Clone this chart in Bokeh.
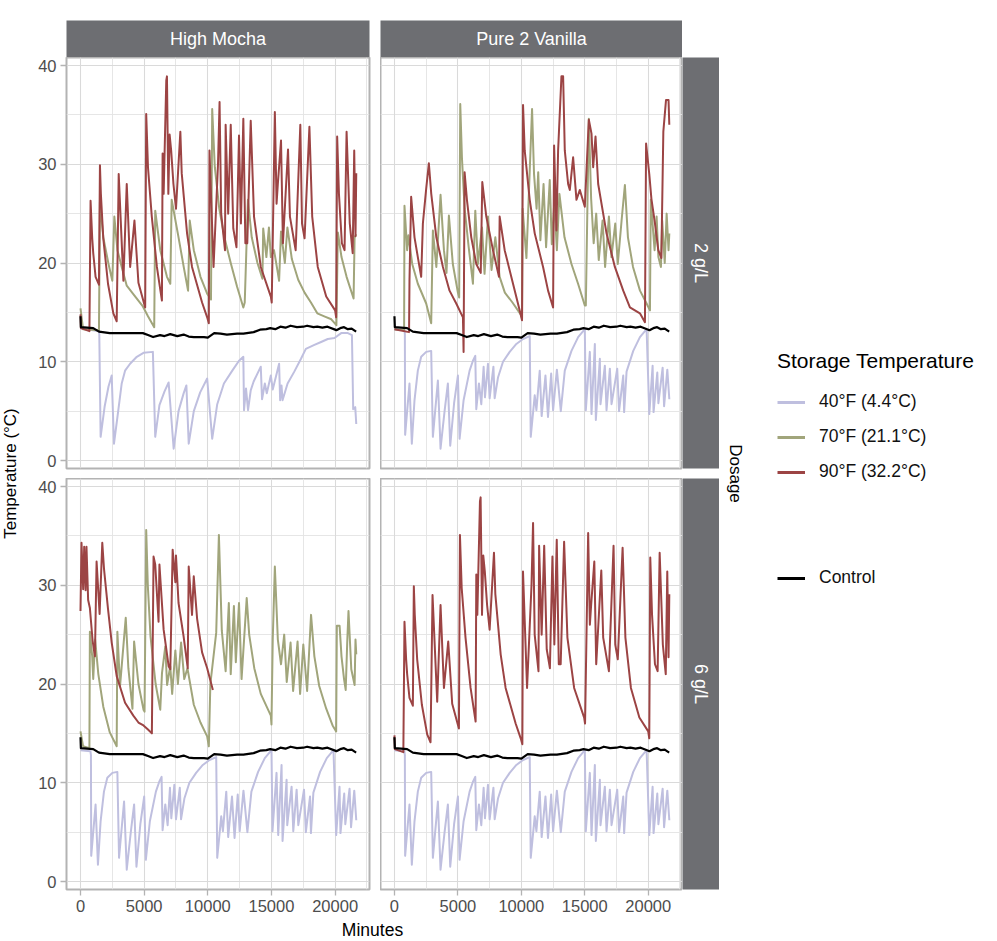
import math
from bokeh.plotting import figure
from bokeh.models import (Range1d, LinearAxis, Grid, FixedTicker, Legend,
                          LegendItem, Label, Row, Column)
from bokeh.embed import file_html
from bokeh.resources import INLINE

FONT = "Liberation Sans"
C40, C70, C90, CCTRL = "#bfbfdf", "#a1a57b", "#9c4444", "#000000"
STRIP = "#6d6e72"

# ---------------- data (minutes, temperature in deg C) ----------------
COLS = ["High Mocha", "Pure 2 Vanilla"]
ROWS = ["2 g/L", "6 g/L"]
LEGEND_TITLE = "Storage Temperature"
LEGEND_LABELS = ["40°F (4.4°C)", "70°F (21.1°C)", "90°F (32.2°C)"]
CONTROL_LABEL = "Control"
X_TICKS = [0, 5000, 10000, 15000, 20000]
Y_TICKS = [0, 10, 20, 30, 40]
X_MINOR = [2500, 7500, 12500, 17500, 22500]
Y_MINOR = [5, 15, 25, 35]

CTRL_MIN = [0, 30, 1000, 1450, 2300, 4900, 5300, 5700, 6250, 6600,
            7050, 7600, 8100, 8500, 8900, 9700, 10000, 10500, 11000, 11500,
            12300, 12800, 13600, 14100, 14600, 14900, 15300, 15700, 16100, 16500,
            17000, 17500, 17800, 18300, 18600, 19000, 19400, 20100, 20400, 20700,
            21000, 21300, 21650]
CTRL_TMP = [14.6, 13.5, 13.4, 13.05, 12.9, 12.9, 12.7, 12.5, 12.7, 12.6,
            12.8, 12.6, 12.75, 12.55, 12.5, 12.5, 12.45, 12.9, 12.85, 12.75,
            12.85, 12.85, 13.0, 13.25, 13.3, 13.4, 13.3, 13.55, 13.45, 13.65,
            13.5, 13.55, 13.65, 13.5, 13.55, 13.45, 13.55, 13.2, 13.4, 13.5,
            13.3, 13.35, 13.05]

# 40F, High Mocha 2 g/L
T40A_MIN = [0, 1440, 1474, 1580, 1900, 2200, 2450, 2630, 2900, 3237,
            3500, 3895, 4422, 4948, 5685, 5870, 6200, 6600, 6922, 7317,
            7700, 8100, 8317, 8500, 8900, 9400, 9949, 10344, 10740, 11265,
            11923, 12450, 12790, 12844, 13000, 13160, 13370, 13600, 14160, 14260,
            14480, 14630, 14950, 15100, 15600, 15680, 15790, 15870, 16266, 16792,
            17319, 17700, 18371, 18898, 19424, 19951, 20477, 21003, 21320, 21420,
            21580, 21660]
T40A_TMP = [13.4, 13.1, 12.9, 2.4, 5.5, 7.5, 8.6, 1.7, 4.4, 7.8,
            9.1, 9.8, 10.5, 10.9, 11.0, 2.4, 5.6, 7.0, 7.9, 1.2,
            5.0, 6.8, 7.6, 1.7, 5.0, 6.9, 8.3, 2.2, 5.7, 7.8,
            9.1, 10.1, 10.5, 5.1, 7.3, 5.1, 7.1, 8.0, 9.5, 6.2,
            7.8, 6.8, 8.6, 7.2, 9.8, 6.1, 7.6, 6.1, 7.8, 9.0,
            10.3, 11.3, 11.7, 12.0, 12.3, 12.4, 12.9, 12.9, 12.7, 5.2,
            5.4, 3.7]

# 40F, the other three panels
T40B_MIN = [0, 780, 820, 842, 1184, 1369, 1579, 1842, 2106, 2500,
            2895, 3027, 3422, 3632, 3950, 4211, 4395, 4700, 5001, 5132,
            5448, 5922, 6185, 6369, 6448, 6659, 6843, 7027, 7133, 7370,
            7500, 7800, 7896, 8159, 8554, 9080, 9607, 10133, 10660, 10739,
            11054, 11186, 11449, 11600, 11900, 12100, 12350, 12502, 12800, 13108,
            13423, 13950, 14476, 15002, 15081, 15397, 15529, 15792, 15871, 16187,
            16239, 16581, 16713, 16976, 17108, 17555, 17700, 18029, 18100, 18292,
            18818, 19345, 19871, 20082, 20345, 20420, 20714, 20800, 21135, 21250,
            21503, 21661]
T40B_TMP = [13.3, 13.2, 12.8, 2.6, 7.8, 1.7, 6.1, 9.1, 10.5, 11.0,
            11.1, 2.4, 8.1, 1.2, 5.0, 7.8, 1.5, 5.8, 8.6, 2.2,
            6.1, 9.1, 10.1, 10.6, 5.2, 7.8, 5.7, 9.5, 6.4, 9.8,
            6.3, 9.5, 6.3, 8.4, 10.0, 11.0, 11.8, 12.3, 12.6, 2.4,
            6.6, 5.1, 9.1, 4.5, 8.6, 4.4, 8.8, 5.1, 9.2, 5.0,
            9.1, 11.1, 12.5, 13.3, 5.1, 11.0, 4.7, 11.8, 4.1, 10.3,
            5.7, 9.6, 5.1, 9.3, 5.7, 9.3, 5.0, 8.6, 4.9, 9.0,
            11.1, 12.5, 13.3, 4.7, 9.6, 4.9, 8.9, 5.8, 9.4, 5.5,
            9.2, 6.2]

# 70F, High Mocha 2 g/L
T70TL_MIN = [0, 200, 1450, 1527, 1790, 2200, 2500, 2658, 2900, 3237,
             3632, 4300, 4900, 5300, 5790, 5870, 6264, 6791, 7054, 7160,
             7700, 8107, 8449, 8580, 8900, 9423, 9949, 10250, 10344, 10550,
             10900, 11300, 11800, 12300, 12790, 12900, 13150, 13450, 13900, 14290,
             14350, 14600, 14800, 14950, 15200, 15500, 15600, 15750, 16050, 16250,
             16600, 17100, 17600, 18100, 18600, 19150, 19700, 20100, 20214, 20500,
             20900, 21450, 21530, 21660]
T70TL_TMP = [15.4, 13.3, 13.2, 26.2, 22.6, 19.9, 18.2, 24.7, 21.3, 19.6,
             17.7, 16.6, 15.6, 14.6, 13.5, 25.3, 21.3, 18.6, 17.9, 26.4,
             22.6, 19.6, 17.2, 24.3, 21.3, 18.6, 16.9, 16.3, 35.6, 29.7,
             25.5, 22.6, 20.0, 17.6, 15.5, 16.0, 26.4, 22.6, 20.0, 18.4,
             23.5, 20.6, 23.6, 20.6, 21.3, 19.0, 18.2, 23.2, 20.0, 23.6,
             20.4, 18.3, 17.0, 16.0, 14.9, 14.6, 14.3, 13.7, 23.1, 20.6,
             18.6, 16.4, 22.6, 22.9]

# 70F, Pure 2 Vanilla 2 g/L
T70TR_MIN = [0, 760, 790, 1000, 1100, 1400, 1842, 2500, 2895, 3027,
             3300, 3632, 3900, 4100, 4290, 4600, 5000, 5100, 5185, 5320,
             5530, 5850, 6185, 6370, 6580, 6900, 7100, 7370, 7650, 7950,
             8290, 8700, 9300, 10000, 10054, 10100, 10400, 10844, 11000, 11200,
             11330, 11500, 11750, 11950, 12239, 12400, 12600, 12800, 13000, 13400,
             13950, 14470, 15002, 15081, 15318, 15500, 15700, 15900, 16100, 16400,
             16600, 16900, 17100, 17400, 17600, 17900, 18160, 18400, 18800, 19350,
             19870, 20135, 20200, 20500, 20660, 20800, 21000, 21100, 21300, 21450,
             21600, 21660]
T70TR_TMP = [13.3, 13.2, 25.8, 21.3, 22.8, 19.9, 17.9, 15.9, 13.9, 23.3,
             19.6, 26.9, 21.3, 19.0, 24.8, 19.9, 17.0, 16.5, 36.1, 30.6,
             25.5, 21.6, 17.9, 25.3, 19.9, 23.6, 18.9, 24.7, 19.3, 22.6,
             18.6, 17.0, 16.0, 14.7, 14.4, 25.5, 20.5, 35.6, 29.0, 25.5,
             29.2, 22.3, 28.0, 21.6, 28.4, 21.9, 26.2, 21.3, 27.0, 22.6,
             19.9, 17.9, 15.7, 15.7, 34.6, 26.5, 22.0, 25.0, 20.3, 24.3,
             19.6, 24.7, 20.6, 24.0, 19.9, 24.3, 27.9, 22.6, 19.6, 17.2,
             15.9, 15.2, 26.4, 21.3, 24.7, 20.6, 19.6, 24.3, 20.0, 25.0,
             21.3, 23.0]

# 70F, High Mocha 6 g/L
T70BL_MIN = [0, 200, 700, 737, 920, 1000, 1150, 1400, 1790, 2300,
             2843, 2895, 3106, 3553, 3760, 4080, 4211, 4550, 4948, 5030,
             5160, 5290, 5500, 5900, 6264, 6400, 6660, 6800, 7050, 7200,
             7450, 7650, 7900, 8150, 8400, 8900, 9423, 9949, 10080, 10200,
             10660, 10870, 11100, 11400, 11650, 11800, 12050, 12200, 12450, 12650,
             13055, 13250, 13650, 14160, 14950, 15000, 15100, 15265, 15500, 15750,
             16000, 16200, 16500, 16700, 17050, 17250, 17500, 17800, 18108, 18370,
             18750, 19300, 19800, 20082, 20135, 20350, 20500, 20700, 20830, 20950,
             21050, 21270, 21530, 21600, 21660]
T70BL_TMP = [15.2, 13.7, 13.5, 25.3, 22.8, 20.5, 24.5, 21.0, 17.7, 15.1,
             13.7, 25.3, 19.8, 26.7, 21.6, 17.5, 24.3, 20.0, 17.4, 17.2,
             35.6, 29.9, 24.8, 20.0, 17.4, 21.1, 23.8, 19.9, 21.8, 19.0,
             23.4, 20.0, 24.2, 20.5, 21.6, 17.9, 16.1, 14.7, 13.7, 20.0,
             25.2, 35.1, 25.4, 21.3, 28.2, 21.0, 27.9, 22.2, 28.2, 20.5,
             28.7, 25.0, 21.6, 19.0, 16.8, 15.9, 24.5, 31.9, 24.5, 22.0,
             25.0, 20.2, 24.2, 19.3, 24.3, 19.0, 24.0, 19.3, 27.0, 22.8,
             19.8, 17.5, 15.8, 15.2, 25.9, 25.9, 22.8, 20.5, 19.4, 24.2,
             27.4, 21.5, 19.9, 24.5, 23.0]

# 90F, High Mocha 2 g/L and Pure 2 Vanilla 6 g/L
T90A_MIN = [0, 30, 700, 790, 920, 1000, 1184, 1450, 1527, 1600, 1790,
            2160, 2580, 2843, 3000, 3369, 3632, 3900, 4237, 4550, 5080,
            5160, 5300, 5600, 6000, 6396, 6449, 6530, 6738, 6790, 6900,
            7000, 7120, 7300, 7500, 7843, 7950, 8370, 8760, 9550, 9950,
            10080, 10130, 10450, 10800, 10923, 11050, 11350, 11400, 11600, 11800,
            12000, 12250, 12450, 12600, 12790, 12950, 13100, 13370, 13630, 14160,
            14950, 15020, 15265, 15400, 15500, 15750, 15900, 16300, 16450, 16900,
            17266, 17400, 17600, 17980, 18200, 18635, 19300, 20000, 20080, 20160,
            20300, 20530, 20740, 20900, 21150, 21380, 21500, 21600, 21660]
T90A_TMP = [14.8, 13.4, 13.1, 26.3, 22.5, 21.0, 18.6, 17.8, 29.9, 27.0, 22.5,
            17.9, 14.9, 14.1, 29.0, 18.2, 28.0, 19.6, 24.3, 18.0, 15.5,
            35.1, 29.7, 24.7, 19.6, 16.2, 31.1, 27.0, 38.5, 38.9, 27.0,
            33.0, 31.4, 28.0, 25.5, 33.3, 29.1, 23.0, 19.6, 16.0, 14.5,
            13.9, 31.4, 19.6, 30.0, 36.3, 25.0, 21.3, 34.0, 25.0, 34.0,
            23.5, 21.6, 32.9, 24.0, 34.6, 22.0, 22.0, 34.4, 24.7, 19.6,
            16.6, 16.0, 35.3, 26.0, 28.0, 32.4, 22.0, 31.5, 24.7, 21.3,
            34.0, 24.0, 22.5, 33.8, 24.7, 19.6, 16.6, 15.2, 14.5, 32.8,
            27.0, 22.0, 21.3, 33.3, 24.0, 21.0, 31.4, 22.7, 29.1]

# 90F, Pure 2 Vanilla 2 g/L
T90TR_MIN = [0, 1150, 1184, 1316, 1580, 1842, 2106, 2240, 2500, 2711,
             2900, 3300, 3820, 4340, 4870, 5396, 5448, 5527, 5711, 6054,
             6448, 6800, 6922, 7238, 7764, 8238, 8291, 8686, 9344, 9870,
             10054, 10133, 10265, 10660, 11054, 11712, 12107, 12502, 12581, 12765,
             12897, 13160, 13292, 13423, 13686, 13820, 14080, 14344, 14610, 15002,
             15318, 15529, 15660, 15845, 16055, 16713, 17371, 18029, 18556, 19345,
             19740, 19830, 20082, 20250, 20530, 20793, 21033, 21190, 21400, 21600,
             21660]
T90TR_TMP = [13.3, 13.0, 18.2, 26.7, 22.6, 20.6, 18.6, 24.0, 27.5, 30.1,
             27.0, 22.6, 19.6, 17.2, 15.9, 14.5, 11.0, 29.2, 26.4, 22.6,
             19.9, 19.0, 28.2, 24.7, 21.3, 18.6, 24.7, 21.3, 17.9, 15.2,
             14.2, 36.0, 31.4, 26.4, 23.0, 19.6, 17.2, 15.5, 31.9, 23.3,
             31.4, 38.9, 38.9, 31.4, 28.0, 27.4, 30.7, 26.4, 27.4, 25.7,
             34.5, 33.1, 29.7, 32.8, 28.0, 23.0, 19.6, 17.2, 15.5, 14.9,
             14.0, 32.1, 29.0, 26.5, 24.0, 21.3, 20.5, 33.3, 36.5, 36.5,
             34.0]

# 90F, High Mocha 6 g/L
T90BL_MIN = [0, 79, 210, 290, 400, 470, 600, 737, 950, 1132,
             1263, 1500, 1711, 1850, 2160, 2450, 2843, 3500, 4150, 4550,
             4948, 5300, 5606, 5738, 5870, 6130, 6200, 6530, 6922, 7054,
             7238, 7450, 7500, 7700, 8100, 8422, 8500, 8760, 8896, 9160,
             9550, 9950, 10397]
T90BL_TMP = [27.4, 34.3, 29.6, 33.9, 29.5, 33.9, 28.5, 27.7, 24.4, 22.8,
             32.4, 27.1, 34.3, 31.6, 27.6, 24.2, 20.8, 18.1, 16.8, 16.1,
             15.8, 15.4, 15.0, 32.9, 32.1, 26.3, 32.1, 25.5, 21.8, 21.5,
             33.6, 30.3, 33.0, 28.2, 24.8, 21.6, 31.9, 27.0, 30.9, 26.6,
             23.2, 21.6, 19.4]

# ---------------- helpers ----------------
X_RANGE = (-1100, 22700)
Y_RANGE = (-0.81, 40.81)


def clear_grids(p):
    for r in list(p.center):
        if isinstance(r, Grid):
            p.center.remove(r)


def blank(fw, fh, ml=0, mr=0, mt=0, mb=0, xr=(0, 1), yr=(0, 1), bg="white"):
    p = figure(frame_width=fw, frame_height=fh, x_range=Range1d(*xr), y_range=Range1d(*yr),
               x_axis_location=None, y_axis_location=None, toolbar_location=None,
               output_backend="svg", min_border_left=ml, min_border_right=mr,
               min_border_top=mt, min_border_bottom=mb, outline_line_color=None,
               background_fill_color=bg, border_fill_color="white", title=None)
    clear_grids(p)
    return p


def style_axis(ax):
    ax.axis_line_color = None
    ax.major_tick_line_color = "#b3b3b3"
    ax.major_tick_line_width = 1.3
    ax.major_tick_out = 6
    ax.major_tick_in = 0
    ax.minor_tick_line_color = None
    ax.major_label_text_font = FONT
    ax.major_label_text_font_size = "16.5px"
    ax.major_label_text_color = "#4d4d4d"
    ax.major_label_standoff = 4


def make_panel(fw, series, ml, mr, mb, left_axis, bottom_axis):
    p = figure(frame_width=fw, frame_height=411, x_range=Range1d(*X_RANGE),
               y_range=Range1d(*Y_RANGE), x_axis_location=None, y_axis_location=None,
               toolbar_location=None, output_backend="svg", min_border_left=ml,
               min_border_right=mr, min_border_top=0, min_border_bottom=mb,
               outline_line_color="#b3b3b3", outline_line_width=2,
               background_fill_color="white", border_fill_color="white", title=None)
    clear_grids(p)
    p.add_layout(Grid(dimension=0, ticker=FixedTicker(ticks=X_MINOR),
                      grid_line_color="#e3e3e3", grid_line_width=0.9))
    p.add_layout(Grid(dimension=1, ticker=FixedTicker(ticks=Y_MINOR),
                      grid_line_color="#e3e3e3", grid_line_width=0.9))
    p.add_layout(Grid(dimension=0, ticker=FixedTicker(ticks=X_TICKS),
                      grid_line_color="#dadada", grid_line_width=1.1))
    p.add_layout(Grid(dimension=1, ticker=FixedTicker(ticks=Y_TICKS),
                      grid_line_color="#dadada", grid_line_width=1.1))
    for xs, ys, color, w in series:
        n = min(len(xs), len(ys))
        p.line(xs[:n], ys[:n], line_color=color, line_width=w, line_join="round")
    if left_axis:
        ax = LinearAxis(ticker=FixedTicker(ticks=Y_TICKS))
        style_axis(ax)
        p.add_layout(ax, "left")
    if bottom_axis:
        ax = LinearAxis(ticker=FixedTicker(ticks=X_TICKS))
        style_axis(ax)
        p.add_layout(ax, "below")
    return p


def text_label(p, x, y, text, size, color="black", angle=0.0):
    p.add_layout(Label(x=x, y=y, text=text, text_font=FONT, text_font_size=size,
                       text_color=color, text_align="center", text_baseline="middle",
                       angle=angle))


W = 2.0
ctrl = (CTRL_MIN, CTRL_TMP, CCTRL, 2.2)
s40a = (T40A_MIN, T40A_TMP, C40, W)
s40b = (T40B_MIN, T40B_TMP, C40, W)

ML, MR_L, GAP_V, MB_BOT = 42, 11, 10, 30

p_tl = make_panel(303, [s40a, (T70TL_MIN, T70TL_TMP, C70, W), (T90A_MIN, T90A_TMP, C90, W), ctrl],
                  ML, MR_L, GAP_V, True, False)
p_tr = make_panel(302, [s40b, (T70TR_MIN, T70TR_TMP, C70, W), (T90TR_MIN, T90TR_TMP, C90, W), ctrl],
                  0, 0, GAP_V, False, False)
p_bl = make_panel(303, [s40b, (T70BL_MIN, T70BL_TMP, C70, W), (T90BL_MIN, T90BL_TMP, C90, W), ctrl],
                  ML, MR_L, MB_BOT, True, True)
p_br = make_panel(302, [s40b, (T90A_MIN, T90A_TMP, C90, W), ctrl],
                  0, 0, MB_BOT, False, True)

# top strips
st_l = blank(303, 37, ml=ML, mr=MR_L, mt=20, bg=STRIP)
text_label(st_l, 0.5, 0.5, COLS[0], "18px", "white")
st_r = blank(302, 37, mt=20, bg=STRIP)
text_label(st_r, 0.5, 0.5, COLS[1], "18px", "white")

# right strips
rs_t = blank(37, 411, mb=GAP_V, bg=STRIP)
text_label(rs_t, 0.5, 0.5, ROWS[0], "18px", "white", -math.pi / 2)
rs_b = blank(37, 411, mb=MB_BOT, bg=STRIP)
text_label(rs_b, 0.5, 0.5, ROWS[1], "18px", "white", -math.pi / 2)

# y title column (full height 940 px)
yt = blank(24, 940, xr=(0, 24), yr=(0, 940))
text_label(yt, 10, 467, "Temperature (°C)", "17px", "black", math.pi / 2)

# x title (under both panel columns)
xt = blank(658, 21, xr=(0, 658), yr=(0, 21))
text_label(xt, 348, 11, "Minutes", "17.5px", "black")

# "Dosage" column (full height 940 px)
dz = blank(37, 940, xr=(0, 37), yr=(0, 940))
text_label(dz, 16, 467, "Dosage", "17px", "black", -math.pi / 2)

OFF = [-50, -40]


def style_legend(leg):
    leg.location = "top_left"
    leg.label_text_font = FONT
    leg.label_text_font_size = "17.5px"
    leg.label_text_color = "#111111"
    leg.title_text_font = FONT
    leg.title_text_font_size = "21px"
    leg.title_text_font_style = "normal"
    leg.title_text_color = "#000000"
    leg.title_standoff = 18
    leg.glyph_width = 28
    leg.glyph_height = 20
    leg.label_height = 20
    leg.label_standoff = 14
    leg.spacing = 14
    leg.padding = 0
    leg.margin = 0
    leg.border_line_color = None
    leg.background_fill_alpha = 0


# legend 1: frame starts at screen y 349, with room below for the last entry
lg1 = blank(212, 132, ml=21, mt=349, mb=14, xr=(0, 1), yr=(0, 1))
r40 = lg1.line(x=OFF, y=OFF, line_color=C40, line_width=3)
r70 = lg1.line(x=OFF, y=OFF, line_color=C70, line_width=3)
r90 = lg1.line(x=OFF, y=OFF, line_color=C90, line_width=3)
leg1 = Legend(items=[LegendItem(label=LEGEND_LABELS[0], renderers=[r40]),
                     LegendItem(label=LEGEND_LABELS[1], renderers=[r70]),
                     LegendItem(label=LEGEND_LABELS[2], renderers=[r90])],
              title=LEGEND_TITLE)
style_legend(leg1)
lg1.add_layout(leg1)

# legend 2: frame at screen y 567..587  (lg1 ends at 495)
lg2 = blank(212, 20, ml=21, mt=72, mb=4, xr=(0, 1), yr=(0, 1))
rct = lg2.line(x=OFF, y=OFF, line_color=CCTRL, line_width=3)
leg2 = Legend(items=[LegendItem(label=CONTROL_LABEL, renderers=[rct])])
style_legend(leg2)
lg2.add_layout(leg2)

main = Column(children=[Row(children=[st_l, st_r], spacing=0),
                        Row(children=[p_tl, p_tr, rs_t], spacing=0),
                        Row(children=[p_bl, p_br, rs_b], spacing=0),
                        xt], spacing=0)
legcol = Column(children=[lg1, lg2], spacing=0)
layout = Row(children=[yt, main, dz, legcol], spacing=0)

open("out.html", "w").write(file_html(layout, INLINE))
